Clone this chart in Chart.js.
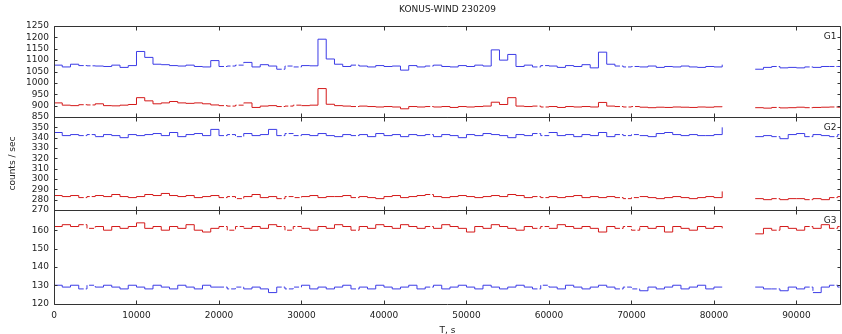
<!DOCTYPE html>
<html>
<head>
<meta charset="utf-8">
<script src="https://cdn.jsdelivr.net/npm/chart.js@4.4.1/dist/chart.umd.min.js"></script>
<style>
  html, body { margin: 0; padding: 0; background: #fff; }
  #wrap { position: relative; width: 842px; height: 334px; }
  #wrap canvas { position: absolute; left: 0; top: 0; }
</style>
</head>
<body>
<div id="wrap">
  <canvas id="g1" width="842" height="334"></canvas>
  <canvas id="g2" width="842" height="334"></canvas>
  <canvas id="g3" width="842" height="334"></canvas>
</div>
<script>
// 1000 s bins (null = no data)
const BIN = 1000;
const T_END = 95400;
const times = Array.from({ length: 96 }, (_, i) => i * BIN);

const g1Blue = [1078,1070,1082,1076,1075,1074,1072,1078,1068,1076,
  1138,1112,1082,1080,1076,1074,1078,1072,1070,1098,
  1072,1074,1078,1090,1070,1080,1074,1060,1074,1070,
  1076,1075,1192,1105,1082,1072,1078,1074,1070,1076,
  1072,1074,1056,1076,1070,1074,1078,1072,1070,1076,
  1072,1078,1074,1145,1100,1125,1072,1078,1070,1076,
  1074,1068,1076,1072,1080,1066,1135,1082,1074,1070,
  1072,1070,1074,1068,1072,1070,1074,1070,1068,1072,
  1070,1080,null,null,null,1060,1068,1072,1066,1068,
  1066,1070,1068,1072,1072,1072];
const g1Red = [912,902,900,904,903,908,900,899,902,905,
  935,921,908,912,918,912,910,912,908,903,
  900,898,902,912,892,898,900,896,898,902,
  900,902,975,906,900,898,896,898,896,894,
  896,894,886,896,894,896,894,896,892,896,
  894,896,898,915,905,935,898,896,898,894,
  896,892,896,894,896,894,914,898,896,894,
  896,893,891,893,892,894,893,892,894,893,
  895,896,null,null,null,891,889,892,890,891,
  893,891,892,893,894,893];

const g2Blue = [345,342,343,342,343,341,343,342,340,343,
  342,343,344,342,345,341,343,344,342,348,
  342,343,341,344,342,343,348,342,344,342,
  343,342,344,342,341,343,342,343,341,344,
  342,343,341,343,342,343,341,343,342,340,
  343,342,344,343,342,340,343,342,344,342,
  345,342,343,341,343,342,345,341,343,342,
  343,342,341,344,345,343,342,343,342,342,
  343,350,null,null,null,341,342,341,339,343,
  344,341,343,342,341,343];
const g2Red = [284,283,284,282,283,284,283,285,283,282,
  283,285,284,286,284,283,284,282,283,284,
  282,283,281,283,285,282,283,281,283,282,
  283,284,282,283,283,284,282,283,282,281,
  283,284,282,283,284,285,283,282,283,284,
  283,282,283,284,283,285,284,282,283,282,
  283,282,283,284,282,283,282,283,282,281,
  282,283,282,281,282,283,282,281,282,283,
  282,288,null,null,null,281,280,281,280,281,
  281,280,281,280,282,283];

const g3Red = [162,163,162,163,161,162,160,162,161,162,
  164,161,162,160,162,161,163,160,159,161,
  162,160,162,161,162,161,163,162,160,162,
  161,160,162,161,163,162,160,162,161,163,
  162,161,163,162,161,162,161,163,162,161,
  159,162,161,163,162,161,160,162,161,162,
  161,163,162,161,162,161,159,162,161,162,
  160,162,161,162,159,162,161,160,162,161,
  162,161,null,null,null,158,161,160,162,161,
  160,162,161,163,161,162];
const g3Blue = [130,129,130,128,130,129,130,129,128,130,
  129,128,130,129,128,130,129,128,130,129,
  129,128,129,128,129,128,126,129,128,129,
  130,128,129,128,129,130,128,129,128,130,
  129,128,129,130,128,129,130,128,129,130,
  129,128,130,129,128,129,130,129,128,130,
  129,128,130,129,128,129,130,129,128,129,
  128,127,129,128,129,130,128,129,130,128,
  129,129,null,null,null,129,128,128,127,129,
  128,129,126,129,130,129];

// time spans where samples are sparse (drawn broken)
const sparseSpans = [[3000,5000],[20000,23000],[27000,30000],[36000,37000],
  [44500,46000],[58000,60000],[68000,71000],[87000,88000],[91000,92000],[94000,95400]];

const xTicks = [0,10000,20000,30000,40000,50000,60000,70000,80000,90000];

const BLUE = '#3c3ce6';
const RED = '#d41a1a';
const FONT = { family: 'DejaVu Sans', size: 9 };
const TEXT = '#222';

const isSparse = t => sparseSpans.some(s => t >= s[0] && t < s[1]);

function series(vals, color) {
  const pts = times.map((t, i) => ({ x: t, y: vals[i] }));
  pts.push({ x: T_END, y: vals[vals.length - 1] });
  return {
    data: pts,
    borderColor: color,
    borderWidth: 1,
    pointRadius: 0,
    stepped: 'before',
    spanGaps: false,
    segment: { borderDash: ctx => isSparse(ctx.p0.parsed.x) ? [5, 2] : undefined }
  };
}

const frame = {
  id: 'frame',
  afterDatasetsDraw(chart, args, o) {
    const { ctx, chartArea: a, scales: { x, y } } = chart;
    const L = Math.round(a.left) + 0.5, R = Math.round(a.right) - 0.5;
    const T = Math.round(a.top) + 0.5, B = Math.round(a.bottom) + 0.5;
    ctx.save();
    ctx.strokeStyle = '#333';
    ctx.lineWidth = 1;
    ctx.beginPath();
    ctx.rect(L, T, R - L, B - T);
    xTicks.forEach(v => {
      const px = Math.round(x.getPixelForValue(v)) + 0.5;
      ctx.moveTo(px, T); ctx.lineTo(px, T + 4);
      ctx.moveTo(px, B); ctx.lineTo(px, B - 4);
    });
    y.ticks.forEach(t => {
      const py = Math.round(y.getPixelForValue(t.value)) + 0.5;
      ctx.moveTo(L, py); ctx.lineTo(L + 3, py);
      ctx.moveTo(R, py); ctx.lineTo(R - 3, py);
    });
    ctx.stroke();
    ctx.fillStyle = TEXT;
    ctx.font = '9px "DejaVu Sans"';
    ctx.textAlign = 'right';
    ctx.textBaseline = 'middle';
    ctx.fillText(o.label, R - 4, T + 10);
    ctx.restore();
  }
};

function panel(id, c) {
  return new Chart(document.getElementById(id), {
    type: 'line',
    data: { datasets: [series(c.first, c.firstColor), series(c.second, c.secondColor)] },
    options: {
      responsive: false,
      animation: false,
      events: [],
      layout: { padding: { top: c.top, bottom: c.bottom, left: 0, right: 1 } },
      plugins: {
        legend: { display: false },
        tooltip: { enabled: false },
        title: c.title ? {
          display: true, text: c.title, fullSize: false, color: TEXT,
          font: { ...FONT, weight: 'normal' }, padding: { top: 4, bottom: 11.2 }
        } : { display: false },
        frame: { label: c.label }
      },
      scales: {
        x: {
          type: 'linear', min: 0, max: T_END,
          display: !!c.showX,
          grid: { display: false, drawTicks: false },
          border: { display: false },
          afterBuildTicks: s => { s.ticks = xTicks.map(v => ({ value: v })); },
          ticks: { autoSkip: false, color: TEXT, font: FONT, padding: 7, maxRotation: 0,
                   callback: v => String(v) },
          title: { display: !!c.showX, text: 'T, s', color: TEXT,
                   font: { ...FONT, lineHeight: 0.4 }, padding: { top: 0, bottom: 0 } }
        },
        y: {
          min: c.min, max: c.max,
          afterFit: s => { s.width = 54; },
          afterBuildTicks: s => { s.ticks = s.ticks.filter(t => t.value % c.step === 0 && t.value <= c.lastTick); },
          grid: { display: false, drawTicks: false },
          border: { display: false },
          ticks: { stepSize: c.step, autoSkip: false, color: TEXT, font: FONT, padding: 5,
                   callback: v => String(v) },
          title: { display: !!c.yTitle, text: c.yTitle || '', color: TEXT, font: FONT, padding: { top: 7, bottom: 0 } }
        }
      }
    },
    plugins: [frame]
  });
}

panel('g1', { label: 'G1', title: 'KONUS-WIND 230209', top: 0, bottom: 217,
  min: 850, max: 1250, step: 50, lastTick: 1250,
  first: g1Blue, firstColor: BLUE, second: g1Red, secondColor: RED });
panel('g2', { label: 'G2', top: 117, bottom: 124, yTitle: 'counts / sec',
  min: 270, max: 360, step: 10, lastTick: 350,
  first: g2Blue, firstColor: BLUE, second: g2Red, secondColor: RED });
panel('g3', { label: 'G3', top: 210, bottom: 2, showX: true,
  min: 120, max: 171, step: 10, lastTick: 160,
  first: g3Red, firstColor: RED, second: g3Blue, secondColor: BLUE });
</script>
</body>
</html>
